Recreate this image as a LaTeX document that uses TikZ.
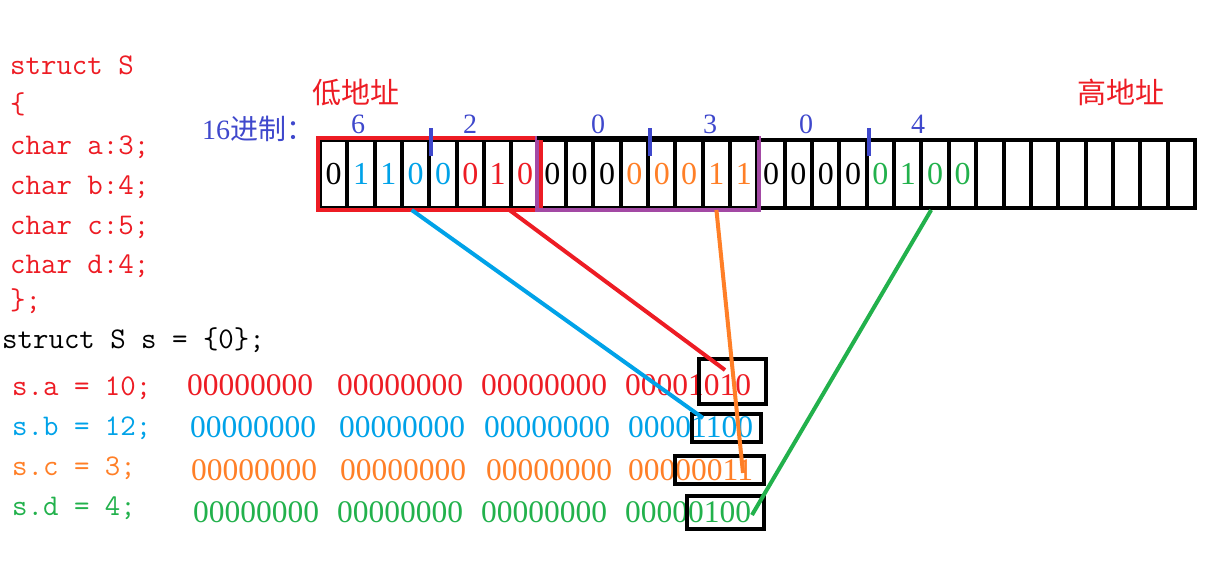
\documentclass[tikz,border=0pt]{standalone}
\usepackage{fontspec}
\setmainfont{Liberation Serif}
\newfontfamily\cjk{Noto Sans CJK SC}
\newcommand\pxsize[1]{\fontsize{#1}{#1}\selectfont}
\definecolor{bitred}{HTML}{ED1C24}
\definecolor{bitblue}{HTML}{00A2E8}
\definecolor{bitorange}{HTML}{FF7F27}
\definecolor{bitgreen}{HTML}{22B14C}
\definecolor{bytepurple}{HTML}{A349A4}
\definecolor{hexblue}{HTML}{3F48CC}

\begin{document}
\begin{tikzpicture}[x=1pt, y=-1pt,
  codeline/.style={anchor=base west, inner sep=0pt, font=\ttfamily\pxsize{30}},
  bits/.style={anchor=base west, inner sep=0pt, font=\pxsize{31.5}},
  cellbox/.style={draw=black, line width=4pt, minimum width=27.34pt, minimum height=68pt, inner sep=0pt, font=\pxsize{32}},
  membox/.style={draw=black, line width=4pt, inner sep=0pt},
  link/.style={line width=4pt}]
  \useasboundingbox (0,0) rectangle (1221,573);

  % struct definition
  \node[codeline, text=bitred] (def1) at (10,74) {struct S};
  \node[codeline, text=bitred] (def2) at (10,113) {\{};
  \node[codeline, text=bitred] (def3) at (10,154) {char a:3;};
  \node[codeline, text=bitred] (def4) at (10,194) {char b:4;};
  \node[codeline, text=bitred] (def5) at (10,234) {char c:5;};
  \node[codeline, text=bitred] (def6) at (10,273) {char d:4;};
  \node[codeline, text=bitred] (def7) at (10,309) {\};};
  \node[codeline] (decl) at (2,348) {struct S s = \{0\};};

  % assignments and their 32-bit values
  \node[codeline, text=bitred] (seta) at (12,395) {s.a = 10;};
  \node[codeline, text=bitblue] (setb) at (12,435) {s.b = 12;};
  \node[codeline, text=bitorange] (setc) at (12,475) {s.c = 3;};
  \node[codeline, text=bitgreen] (setd) at (12,515) {s.d = 4;};
  \foreach \x/\v [count=\i] in {187/00000000, 337/00000000, 481/00000000, 625/00001010}
    \node[bits, text=bitred] (vala\i) at (\x,395) {\v};
  \foreach \x/\v [count=\i] in {190/00000000, 339/00000000, 484/00000000, 628/00001100}
    \node[bits, text=bitblue] (valb\i) at (\x,437) {\v};
  \foreach \x/\v [count=\i] in {191/00000000, 340/00000000, 486/00000000, 628/00000011}
    \node[bits, text=bitorange] (valc\i) at (\x,480) {\v};
  \foreach \x/\v [count=\i] in {193/00000000, 337/00000000, 481/00000000, 625/00000100}
    \node[bits, text=bitgreen] (vald\i) at (\x,522) {\v};

  % memory cells
  \foreach \d/\c [count=\i] in {0/black, 1/bitblue, 1/bitblue, 0/bitblue, 0/bitblue, 0/bitred, 1/bitred, 0/bitred,
                                0/black, 0/black, 0/black, 0/bitorange, 0/bitorange, 0/bitorange, 1/bitorange, 1/bitorange,
                                0/black, 0/black, 0/black, 0/black, 0/bitgreen, 1/bitgreen, 0/bitgreen, 0/bitgreen}
    \node[cellbox, text=\c] (cell\i) at ({320+(\i-0.5)*27.34},174) {\d};
  \foreach \i in {25,...,32}
    \node[cellbox] (cell\i) at ({320+(\i-0.5)*27.34},174) {};
  \draw[bitred, line width=4pt] (cell1.north west) rectangle (cell8.south east);
  \draw[bytepurple, line width=4pt] (cell9.north west) rectangle (cell16.south east);
  \draw[line width=4pt] (cell9.north west) -- (cell16.north east);

  % nibble marks and hex digits
  \foreach \i in {4,12,20}
    \draw[hexblue, line width=4pt] ([yshift=10pt]cell\i.north east) -- ([yshift=-18pt]cell\i.north east);
  \foreach \h/\x [count=\i] in {6/358, 2/470, 0/598, 3/710, 0/806, 4/918}
    \node[anchor=base, inner sep=0pt, text=hexblue, font=\pxsize{28}] (hex\i) at (\x,133) {\h};
  \node[anchor=base west, inner sep=0pt, text=hexblue, font=\pxsize{28}] (radix) at (202,139) {16{\cjk 进制：}};
  \node[anchor=base west, inner sep=0pt, text=bitred, font=\cjk\pxsize{29}] (lowaddr) at (312,103) {低地址};
  \node[anchor=base west, inner sep=0pt, text=bitred, font=\cjk\pxsize{29}] (highaddr) at (1077,103) {高地址};

  % boxes round the stored bits
  \node[membox, minimum width=67pt, minimum height=45pt] (boxa) at (732.5,381.5) {};
  \node[membox, minimum width=69pt, minimum height=28pt] (boxb) at (726.5,428) {};
  \node[membox, minimum width=89pt, minimum height=28pt] (boxc) at (719.5,470) {};
  \node[membox, minimum width=77pt, minimum height=33pt] (boxd) at (725.5,512.5) {};

  % links from cells to boxes
  \coordinate (enda) at (725,370);
  \coordinate (endb) at (703,418);
  \coordinate (endc) at (743,473);
  \coordinate (endd) at (752,515);
  \draw[link, bitred] ([xshift=-4pt]cell7.south east) -- (enda);
  \draw[link, bitblue] ([xshift=-4pt]cell4.south) -- (endb);
  \draw[link, bitorange] (cell15.south) -- (endc);
  \draw[link, bitgreen] ([xshift=-4pt]cell23.south) -- (endd);
\end{tikzpicture}
\end{document}
